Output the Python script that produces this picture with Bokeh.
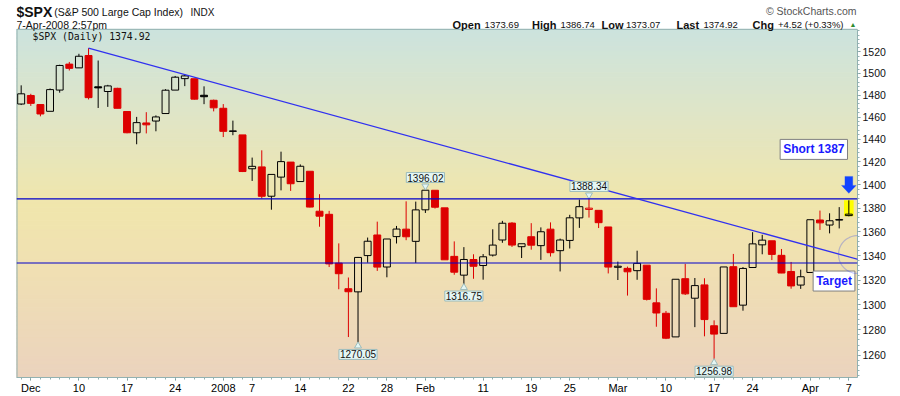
import math
from bokeh.plotting import figure
from bokeh.models import (ColumnDataSource, FixedTicker, Range1d, Span, Label, Arrow,
                          PrintfTickFormatter, PolyAnnotation)
from bokeh.embed import file_html
from bokeh.resources import INLINE

# ---------------- data (S&P 500 daily) ----------------
dates = [
    "2007-11-30",
    "2007-12-03", "2007-12-04", "2007-12-05", "2007-12-06", "2007-12-07",
    "2007-12-10", "2007-12-11", "2007-12-12", "2007-12-13", "2007-12-14",
    "2007-12-17", "2007-12-18", "2007-12-19", "2007-12-20", "2007-12-21",
    "2007-12-24", "2007-12-26", "2007-12-27", "2007-12-28", "2007-12-31",
    "2008-01-02", "2008-01-03", "2008-01-04",
    "2008-01-07", "2008-01-08", "2008-01-09", "2008-01-10", "2008-01-11",
    "2008-01-14", "2008-01-15", "2008-01-16", "2008-01-17", "2008-01-18",
    "2008-01-22", "2008-01-23", "2008-01-24", "2008-01-25",
    "2008-01-28", "2008-01-29", "2008-01-30", "2008-01-31", "2008-02-01",
    "2008-02-04", "2008-02-05", "2008-02-06", "2008-02-07", "2008-02-08",
    "2008-02-11", "2008-02-12", "2008-02-13", "2008-02-14", "2008-02-15",
    "2008-02-19", "2008-02-20", "2008-02-21", "2008-02-22",
    "2008-02-25", "2008-02-26", "2008-02-27", "2008-02-28", "2008-02-29",
    "2008-03-03", "2008-03-04", "2008-03-05", "2008-03-06", "2008-03-07",
    "2008-03-10", "2008-03-11", "2008-03-12", "2008-03-13", "2008-03-14",
    "2008-03-17", "2008-03-18", "2008-03-19", "2008-03-20",
    "2008-03-24", "2008-03-25", "2008-03-26", "2008-03-27", "2008-03-28",
    "2008-03-31", "2008-04-01", "2008-04-02", "2008-04-03", "2008-04-04",
    "2008-04-07",
]
opens = [
    1471.83,
    1479.63, 1471.34, 1465.22, 1484.59, 1508.60,
    1505.11, 1516.68, 1487.58, 1483.27, 1486.19,
    1465.05, 1445.92, 1454.70, 1456.42, 1463.19,
    1484.55, 1495.12, 1495.05, 1479.83, 1475.25,
    1467.97, 1447.55, 1444.01,
    1414.07, 1415.71, 1390.25, 1406.78, 1419.91,
    1402.91, 1411.88, 1377.41, 1374.79, 1333.90,
    1312.94, 1310.41, 1340.13, 1357.32,
    1330.70, 1355.94, 1362.22, 1351.98, 1378.60,
    1395.38, 1380.28, 1339.48, 1324.01, 1336.88,
    1331.92, 1340.55, 1353.12, 1367.33, 1347.52,
    1355.86, 1348.39, 1362.21, 1344.22,
    1352.75, 1371.76, 1378.95, 1378.16, 1364.07,
    1330.45, 1329.58, 1327.69, 1332.20, 1301.53,
    1293.16, 1274.40, 1321.13, 1305.26, 1316.05,
    1283.21, 1277.16, 1330.97, 1299.67,
    1330.29, 1349.07, 1352.45, 1340.34, 1327.02,
    1315.92, 1326.21, 1369.96, 1365.69, 1369.85,
    1373.69,
]
highs = [
    1488.94,
    1481.16, 1471.34, 1486.09, 1508.02, 1510.63,
    1518.27, 1523.57, 1511.96, 1489.40, 1486.67,
    1465.05, 1460.16, 1464.42, 1461.53, 1485.40,
    1497.63, 1498.85, 1495.05, 1488.01, 1475.83,
    1471.77, 1456.80, 1444.01,
    1423.87, 1430.28, 1409.19, 1429.09, 1419.91,
    1417.89, 1411.88, 1391.99, 1377.72, 1350.28,
    1322.09, 1339.02, 1355.15, 1368.56,
    1353.97, 1364.93, 1385.86, 1385.62, 1396.02,
    1395.38, 1380.28, 1351.96, 1347.16, 1341.22,
    1341.40, 1362.10, 1369.23, 1368.16, 1350.00,
    1367.28, 1363.71, 1367.94, 1354.30,
    1374.36, 1387.34, 1388.34, 1378.16, 1364.07,
    1335.13, 1331.03, 1344.19, 1332.20, 1313.24,
    1295.01, 1320.65, 1333.26, 1321.68, 1321.47,
    1287.50, 1330.74, 1341.51, 1330.67,
    1359.68, 1357.47, 1352.45, 1345.62, 1334.87,
    1328.52, 1370.18, 1377.95, 1375.66, 1380.91,
    1386.74,
]
lows = [
    1470.89,
    1470.08, 1460.66, 1465.22, 1482.19, 1502.66,
    1504.96, 1475.99, 1468.23, 1469.21, 1467.78,
    1445.43, 1435.65, 1445.31, 1447.22, 1463.19,
    1484.55, 1488.20, 1475.86, 1471.70, 1465.13,
    1442.07, 1443.73, 1411.19,
    1403.45, 1388.30, 1378.70, 1395.31, 1394.83,
    1402.91, 1380.60, 1364.27, 1330.67, 1312.51,
    1274.29, 1270.05, 1334.31, 1327.50,
    1322.26, 1350.19, 1352.95, 1334.08, 1375.93,
    1379.69, 1336.64, 1324.34, 1316.75, 1321.06,
    1320.32, 1339.36, 1350.78, 1347.31, 1338.13,
    1345.05, 1336.55, 1339.34, 1327.04,
    1346.03, 1363.29, 1372.00, 1363.16, 1325.42,
    1320.04, 1307.39, 1320.22, 1303.42, 1282.43,
    1272.66, 1274.40, 1307.86, 1282.11, 1274.86,
    1256.98, 1277.16, 1298.42, 1295.22,
    1330.29, 1341.21, 1336.41, 1325.66, 1312.95,
    1312.81, 1326.21, 1361.55, 1358.68, 1362.83,
    1373.07,
]
closes = [
    1481.14,
    1472.42, 1462.79, 1485.01, 1507.34, 1504.66,
    1515.96, 1477.65, 1486.59, 1488.41, 1467.95,
    1445.90, 1454.98, 1453.00, 1460.12, 1484.46,
    1496.45, 1497.66, 1476.27, 1478.49, 1468.36,
    1447.16, 1447.16, 1411.63,
    1416.18, 1390.19, 1409.13, 1420.33, 1401.02,
    1416.25, 1380.95, 1373.20, 1333.25, 1325.19,
    1310.50, 1338.60, 1352.07, 1330.61,
    1353.96, 1362.30, 1355.81, 1378.55, 1395.42,
    1380.82, 1336.64, 1326.45, 1336.91, 1331.29,
    1339.13, 1348.86, 1367.21, 1348.86, 1349.99,
    1348.78, 1360.03, 1342.53, 1353.11,
    1371.80, 1381.29, 1380.02, 1367.68, 1330.63,
    1331.34, 1326.75, 1333.70, 1304.34, 1293.37,
    1273.37, 1320.65, 1308.77, 1315.48, 1288.14,
    1276.60, 1330.74, 1298.42, 1329.51,
    1349.88, 1352.99, 1341.13, 1325.76, 1315.22,
    1322.70, 1370.18, 1367.53, 1369.31, 1370.40,
    1374.92,
]
prior_close = 1469.72  # close of 2007-11-29, colours the first candle

tick_dates = ["2007-12-03", "2007-12-10", "2007-12-17", "2007-12-24", "2008-01-02",
              "2008-01-07", "2008-01-14", "2008-01-22", "2008-01-28", "2008-02-01",
              "2008-02-11", "2008-02-19", "2008-02-25", "2008-03-03", "2008-03-10",
              "2008-03-17", "2008-03-24", "2008-04-01", "2008-04-07"]
tick_labels = ["Dec", "10", "17", "24", "2008", "7", "14", "22", "28", "Feb",
               "11", "19", "25", "Mar", "10", "17", "24", "Apr", "7"]
price_ticks = [1260, 1280, 1300, 1320, 1340, 1360, 1380, 1400, 1420, 1440,
               1460, 1480, 1500, 1520]

resistance = 1388
support = 1334
trend_start_date = "2007-12-11"
trend_end = (91, 1328.2)          # (trading-day index, price) where the trendline ends
marked_highs = ["2008-02-01", "2008-02-27"]
marked_lows = ["2008-01-23", "2008-02-07", "2008-03-17"]
target_price = 1341
short_note = (82.36, 1431.1)
target_note = (84.46, 1319.2)

# ---------------- layout ----------------
W, H = 900, 396
MB_L, MB_R, MB_B = 16, 43, 17
CHART_TOP = 29                      # px from top where the price panel begins
X0, X1 = -0.486, 86.9
Y_BOT, Y_TOP = 1242.8, 1541.4       # prices at the bottom / top of the price panel
PX_PER_DAY = (W - MB_L - MB_R) / (X1 - X0)
K = (H - MB_B - CHART_TOP) / math.log(Y_TOP / Y_BOT)   # px per ln-unit
Y_FRAME_TOP = Y_TOP * math.exp(CHART_TOP / K)            # header lives inside the frame

RED, BLACK, BLUE = "#dd0000", "#000000", "#0000cc"
BORDER = "#93b1b1"
FONT = "Liberation Sans"

p = figure(width=W, height=H, x_range=Range1d(X0, X1), y_range=Range1d(Y_BOT, Y_FRAME_TOP),
           y_axis_type="log", y_axis_location="right", toolbar_location=None,
           output_backend="svg", min_border_left=MB_L, min_border_right=MB_R,
           min_border_top=0, min_border_bottom=MB_B)
p.background_fill_color = "white"
p.border_fill_color = "white"
p.outline_line_color = None
p.grid.visible = False

# ---------- gradient background of the price panel ----------
stops = [(0.0, (203, 227, 222)), (0.25, (224, 229, 198)), (0.5, (240, 230, 172)),
         (0.68, (240, 224, 178)), (1.0, (235, 211, 190))]

def grad(f):
    for (f0, c0), (f1, c1) in zip(stops[:-1], stops[1:]):
        if f <= f1:
            t = (f - f0) / (f1 - f0)
            return "#%02x%02x%02x" % tuple(int(round(a + (b - a) * t)) for a, b in zip(c0, c1))
    return "#%02x%02x%02x" % stops[-1][1]

nb = 80
lnhi, lnlo = math.log(Y_TOP), math.log(Y_BOT)
bg = dict(top=[], bottom=[], color=[])
for k in range(nb):
    bg["top"].append(math.exp(lnhi - (lnhi - lnlo) * k / nb))
    bg["bottom"].append(math.exp(lnhi - (lnhi - lnlo) * (k + 1) / nb))
    bg["color"].append(grad((k + 0.5) / nb))
bg["left"] = [X0] * nb
bg["right"] = [X1] * nb
p.quad(left="left", right="right", top="top", bottom="bottom", fill_color="color",
       line_color="color", line_width=1, source=ColumnDataSource(bg))

# panel borders (top and left)
p.add_layout(Span(location=Y_TOP, dimension="width", line_color=BORDER, line_width=1))
p.segment(x0=[X0], y0=[Y_BOT], x1=[X0], y1=[Y_TOP], line_color=BORDER, line_width=2)

# ---------- candles ----------
n = len(dates)
xs = list(range(n))
prev = [prior_close] + closes[:-1]
col = [BLACK if c >= pc else RED for c, pc in zip(closes, prev)]
btop = [max(o, c) for o, c in zip(opens, closes)]
bbot = [min(o, c) for o, c in zip(opens, closes)]
falpha = [1.0 if c < o else 0.0 for o, c in zip(opens, closes)]

last = n - 1
p.quad(left=[xs[last] - 0.5], right=[xs[last] + 0.5], top=[highs[last]], bottom=[lows[last]],
       fill_color="#ffff00", line_color=None)

src = ColumnDataSource(dict(x=xs, hi=highs, lo=lows, bt=btop, bb=bbot, c=col, fa=falpha))
p.segment(x0="x", y0="bt", x1="x", y1="hi", line_color="c", line_width=1, source=src)
p.segment(x0="x", y0="lo", x1="x", y1="bb", line_color="c", line_width=1, source=src)
p.vbar(x="x", width=0.72, top="bt", bottom="bb", fill_color="c", fill_alpha="fa",
       line_color="c", line_width=1, source=src)

# ---------- lines ----------
p.add_layout(Span(location=resistance, dimension="width", line_color=BLUE, line_width=1.2))
p.add_layout(Span(location=support, dimension="width", line_color=BLUE, line_width=1.2))
ti = dates.index(trend_start_date)
p.add_layout(Arrow(x_start=ti, y_start=highs[ti], x_end=trend_end[0], y_end=trend_end[1],
                   end=None, line_color="#3030f0", line_width=1.3))

# ---------- axes ----------
ya = p.yaxis[0]
ya.ticker = FixedTicker(ticks=price_ticks, minor_ticks=list(range(1244, 1541, 4)))
ya.formatter = PrintfTickFormatter(format="%d")
ya.bounds = (Y_BOT, Y_TOP)
ya.axis_line_color = BORDER
ya.major_tick_line_color = "#6f8f8f"
ya.minor_tick_line_color = BORDER
ya.major_tick_out, ya.major_tick_in = 3, 0
ya.minor_tick_out, ya.minor_tick_in = 2, 0
ya.major_label_standoff = 2
ya.major_label_text_font = FONT
ya.major_label_text_font_size = "10.5px"
ya.major_label_text_color = "#111111"

tick_idx = [dates.index(d) for d in tick_dates]
xa = p.xaxis[0]
xa.ticker = FixedTicker(ticks=tick_idx, minor_ticks=xs)
xa.major_label_overrides = {i: lab for i, lab in zip(tick_idx, tick_labels)}
xa.axis_line_color = BORDER
xa.major_tick_line_color = "#6f8f8f"
xa.minor_tick_line_color = BORDER
xa.major_tick_out, xa.major_tick_in = 3, 0
xa.minor_tick_out, xa.minor_tick_in = 2, 0
xa.major_label_standoff = 1
xa.major_label_text_font = FONT
xa.major_label_text_font_size = "11px"
xa.major_label_text_color = "#000000"

# ---------- value call-outs ----------
CALL_BG, CALL_BD = "#e4f6f4", "#9cbcbc"
tri = dict(x=[], y=[], m=[])

def callout(i, price, above):
    p.add_layout(Label(x=xs[i], y=price, text="%.2f" % price, text_align="center",
                       text_baseline="bottom" if above else "top",
                       y_offset=7 if above else -7, text_font=FONT, text_font_size="10px",
                       text_color="#111111", background_fill_color=CALL_BG,
                       border_line_color=CALL_BD, padding=1))
    tri["x"].append(xs[i])
    tri["y"].append(price * math.exp((3.5 if above else -3.5) / K))
    tri["m"].append("inverted_triangle" if above else "triangle")

for d in marked_highs:
    i = dates.index(d)
    callout(i, highs[i], True)
for d in marked_lows:
    i = dates.index(d)
    callout(i, lows[i], False)
p.scatter(x="x", y="y", marker="m", size=7, fill_color=CALL_BG, line_color=CALL_BD,
          source=ColumnDataSource(tri))

# ---------- header texts (canvas pixels) ----------
def clabel(cx, cy, text, **kw):
    kw.setdefault("text_font", FONT)
    kw.setdefault("text_baseline", "middle")
    p.add_layout(Label(x=cx, y=cy, x_units="canvas", y_units="canvas", text=text, **kw))

clabel(16, 11, "$SPX", text_font_size="14px", text_font_style="bold", text_color="#111111")
clabel(53.7, 11.5, "(S&P 500 Large Cap Index)", text_font_size="10.5px", text_color="#111111")
clabel(190, 11.5, "INDX", text_font_size="10px", text_color="#111111")
clabel(16, 24, "7-Apr-2008 2:57pm", text_font_size="10.5px", text_color="#111111")
clabel(856, 10.5, "\u00a9 StockCharts.com", text_font_size="10.5px", text_color="#555555",
       text_align="right")
# quote line: bold field names followed by values
hdr = [(452, "Open", True), (484.1, "1373.69", False),
       (531.6, "High", True), (560, "1386.74", False),
       (601, "Low", True), (625.5, "1373.07", False),
       (676, "Last", True), (703, "1374.92", False),
       (752, "Chg", True), (777.5, "+4.52 (+0.33%)", False)]
for cx, t, b in hdr:
    clabel(cx, 24, t, text_font_size="11px" if b else "9.5px",
           text_font_style="bold" if b else "normal", text_color="#111111")
clabel(849, 23.5, "\u25b2", text_font_size="7px", text_color="#2e8b2e")
clabel(32, 36, "$SPX (Daily) 1374.92", text_font="DejaVu Sans Mono",
       text_font_size="9.8px", text_color="#111111")

# ---------- trade notes ----------
def note(x, y, text):
    p.add_layout(Label(x=x, y=y, text=text, text_align="center", text_baseline="middle",
                       x_offset=2, y_offset=-2, text_font=FONT, text_font_size="12px",
                       text_font_style="bold", text_alpha=0.0,
                       background_fill_color="#9a9a9a", padding=3))
    p.add_layout(Label(x=x, y=y, text=text, text_align="center", text_baseline="middle",
                       text_font=FONT, text_font_size="12px", text_font_style="bold",
                       text_color="#1a1aff", background_fill_color="white",
                       border_line_color="#808080", padding=3))

note(short_note[0], short_note[1], "Short 1387")
note(target_note[0], target_note[1], "Target")

# pointer arrow above the last bar
hx, hp = xs[last], highs[last]
def pt(dx_px, up_px):
    return hx + dx_px / PX_PER_DAY, hp * math.exp(up_px / K)
shape = [(-3.9, 24), (3.9, 24), (3.9, 15), (7.3, 15), (0, 7), (-7.3, 15), (-3.9, 15)]
pts = [pt(a, b) for a, b in shape]
p.add_layout(PolyAnnotation(xs=[q[0] for q in pts], ys=[q[1] for q in pts],
                            fill_color="#1144ff", fill_alpha=1.0, line_color="#1144ff",
                            line_width=1))

# target circle
cxd, r = X1, 19
circ = [(cxd + r * math.cos(a) / PX_PER_DAY, target_price * math.exp(r * math.sin(a) / K))
        for a in [2 * math.pi * k / 72 for k in range(72)]]
p.add_layout(PolyAnnotation(xs=[q[0] for q in circ], ys=[q[1] for q in circ],
                            fill_alpha=0.0, line_color="#3344ee", line_width=1.2))

open("out.html", "w").write(file_html(p, INLINE))
